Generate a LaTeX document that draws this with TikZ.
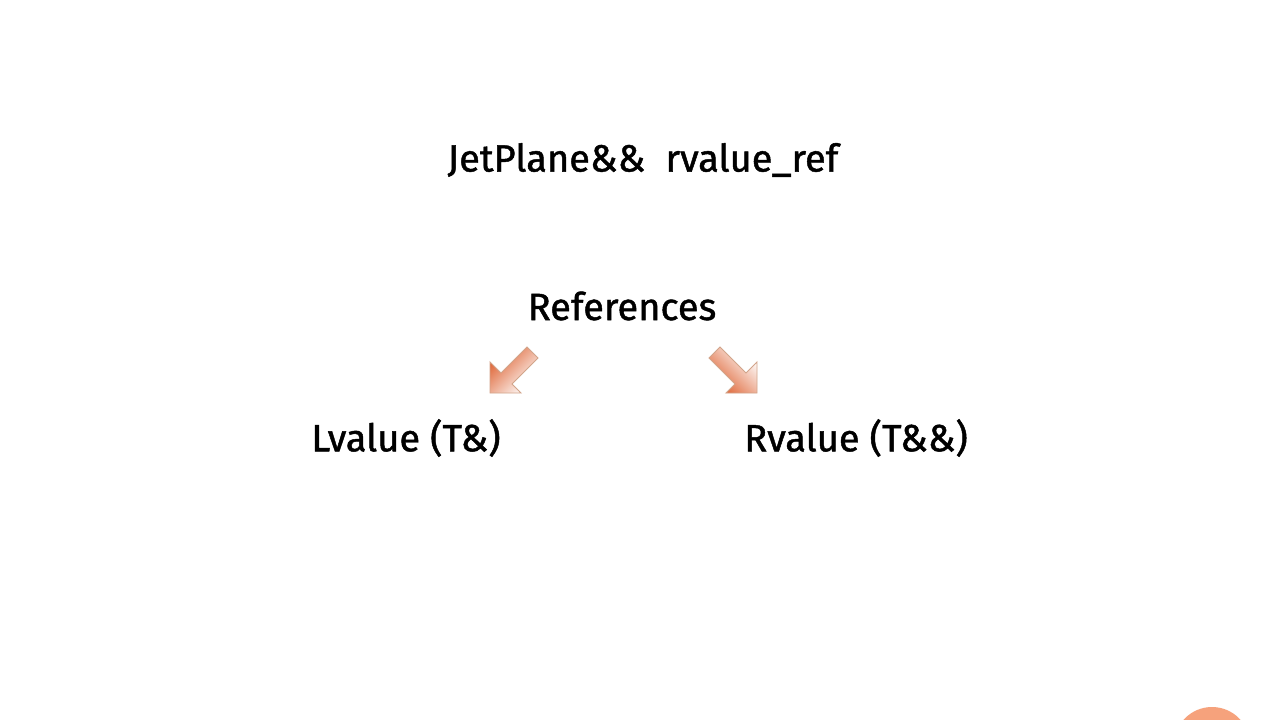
\documentclass[tikz,border=0pt]{standalone}
\usepackage{fontspec}
\setmainfont{Fira Sans}[FakeBold=1.2]
\usetikzlibrary{shadings}
\definecolor{arrowor}{HTML}{DE6232}
\definecolor{arrowmid}{HTML}{EFA98A}
\definecolor{arrowedge}{HTML}{D2A48A}
\definecolor{blobor}{HTML}{F6A27C}
\tikzset{
  lbl/.style={inner sep=0pt, text=black, font=\fontsize{38}{42}\selectfont},
  blockarrow/.style={draw=arrowedge, line width=0.9pt, line join=miter},
}
\begin{document}
\begin{tikzpicture}[x=1pt,y=-1pt]
\useasboundingbox[fill=white] (0,0) rectangle (1280,720);
\node[lbl] (title) at (643,160) {JetPlane\&\&\ \ rvalue\_ref};
\node[lbl] (refs) at (622,306) {References};
\node[lbl] (lval) at (406,438) {Lvalue (T\&)};
\node[lbl] (rval) at (856,438) {Rvalue (T\&\&)};
% left arrow, pointing down-left
\begin{scope}[shift={(490,393)}]
  \path[blockarrow, left color=arrowor, middle color=arrowmid, right color=white, shading angle=45]
    (0,0) -- (0,-31) -- (11,-20) -- (37,-46) -- (48,-35) -- (22,-9) -- (31,0) -- cycle;
\end{scope}
% right arrow, pointing down-right
\begin{scope}[shift={(757,393)}]
  \path[blockarrow, right color=arrowor, middle color=arrowmid, left color=white, shading angle=-45]
    (0,0) -- (0,-31) -- (-11,-20) -- (-37,-46) -- (-48,-35) -- (-22,-9) -- (-31,0) -- cycle;
\end{scope}
\fill[blobor] (1212,745) circle (38);
\end{tikzpicture}
\end{document}
